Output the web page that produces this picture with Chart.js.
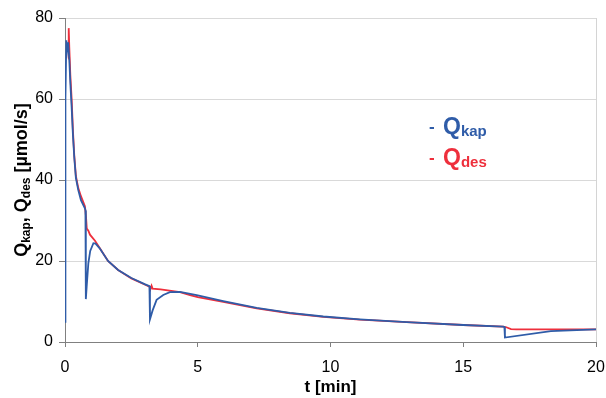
<!DOCTYPE html>
<html>
<head>
<meta charset="utf-8">
<script src="https://cdn.jsdelivr.net/npm/chart.js@4/dist/chart.umd.min.js"></script>
<style>
  html, body { margin: 0; padding: 0; background: #fff; }
  #wrap { width: 606px; height: 398px; position: relative; }
</style>
</head>
<body>
<div id="wrap"><canvas id="qChart"></canvas></div>
<script>
const tKap = [0, 0.005, 0.01, 0.02, 0.03, 0.05, 0.08, 0.12, 0.16, 0.2, 0.25, 0.3, 0.35, 0.41, 0.5, 0.6, 0.75, 0.77, 0.78, 0.79, 0.82, 0.88, 0.95, 1.07, 1.15, 1.3, 1.62, 2.0, 2.5, 3.0, 3.18, 3.2, 3.3, 3.45, 3.7, 3.95, 4.33, 4.96, 5.96, 7.22, 8.47, 9.73, 11.1, 12.87, 15.0, 16.5, 16.55, 16.57, 18.3, 20];
const qKap = [5, 15, 38, 38, 60, 74.5, 72, 74, 70, 64, 58, 51, 45.5, 40.5, 37.5, 35, 33, 32.5, 18, 10.6, 14, 19.5, 22.5, 24.4, 24.3, 23.2, 20, 17.8, 15.8, 14.3, 13.8, 5.6, 7.8, 10.4, 11.6, 12.3, 12.4, 11.6, 10.1, 8.4, 7.2, 6.3, 5.6, 4.9, 4.2, 3.8, 3.7, 1.1, 2.7, 3.1];

const tDes = [0.12, 0.14, 0.16, 0.2, 0.25, 0.3, 0.35, 0.41, 0.5, 0.6, 0.75, 0.79, 0.82, 0.88, 0.94, 1.13, 1.3, 1.62, 2.0, 2.5, 3.0, 3.2, 3.22, 3.26, 3.3, 3.6, 4.0, 4.33, 4.71, 5.0, 5.96, 7.22, 8.47, 9.73, 11.1, 12.87, 15.0, 16.5, 16.6, 16.8, 17.0, 18.0, 20.0];
const qDes = [70, 77.5, 73, 66, 60, 52, 46, 41, 38, 36, 33.5, 31, 28, 27.5, 26.5, 25, 23.3, 20, 17.8, 15.7, 14.2, 13.6, 13.1, 13.9, 13.2, 13, 12.6, 12.3, 11.6, 11.1, 9.9, 8.3, 7.1, 6.2, 5.5, 4.9, 4.2, 3.8, 3.7, 3.2, 3.1, 3.1, 3.1];

const blue = '#2f5ca8';
const red = '#ee2f3c';
const FONT = '"Liberation Sans", Arial, sans-serif';

function pts(xs, ys) {
  return xs.map((x, i) => ({ x: x, y: ys[i] }));
}

// draws a run of text pieces, some of them as subscripts
function drawRuns(ctx, runs, x, y) {
  let cx = x;
  runs.forEach(r => {
    ctx.font = 'bold ' + r.size + 'px ' + FONT;
    ctx.fillText(r.text, cx, y + (r.dy || 0));
    cx += ctx.measureText(r.text).width;
  });
  return cx - x;
}
function runsWidth(ctx, runs) {
  let w = 0;
  runs.forEach(r => {
    ctx.font = 'bold ' + r.size + 'px ' + FONT;
    w += ctx.measureText(r.text).width;
  });
  return w;
}

const labelPlugin = {
  id: 'labels',
  afterDraw(chart) {
    const ctx = chart.ctx;
    ctx.save();
    ctx.textBaseline = 'alphabetic';
    ctx.textAlign = 'left';

    // y axis title, rotated
    const yRuns = [
      { text: 'Q', size: 18 },
      { text: 'kap', size: 12, dy: 3 },
      { text: ', Q', size: 18 },
      { text: 'des', size: 12, dy: 3 },
      { text: ' [\u00b5mol/s]', size: 18 }
    ];
    const w = runsWidth(ctx, yRuns);
    ctx.fillStyle = '#000';
    ctx.translate(27, 180);
    ctx.rotate(-Math.PI / 2);
    drawRuns(ctx, yRuns, -w / 2, 0);
    ctx.setTransform(1, 0, 0, 1, 0, 0);

    // legend
    ctx.fillStyle = blue;
    drawRuns(ctx, [{ text: '- ', size: 17, dy: -2 }], 429, 134);
    drawRuns(ctx, [{ text: 'Q', size: 23 }, { text: 'kap', size: 15, dy: 2 }], 443, 134);
    ctx.fillStyle = red;
    drawRuns(ctx, [{ text: '- ', size: 17, dy: -2 }], 429, 165);
    drawRuns(ctx, [{ text: 'Q', size: 23 }, { text: 'des', size: 15, dy: 2 }], 443, 165);
    ctx.restore();
  }
};

new Chart(document.getElementById('qChart').getContext('2d'), {
  type: 'line',
  data: {
    datasets: [
      {
        label: 'Qdes',
        data: pts(tDes, qDes),
        borderColor: red,
        borderWidth: 1.8,
        pointRadius: 0,
        tension: 0,
        order: 2
      },
      {
        label: 'Qkap',
        data: pts(tKap, qKap),
        borderColor: blue,
        borderWidth: 1.8,
        pointRadius: 0,
        tension: 0,
        order: 1
      }
    ]
  },
  options: {
    responsive: true,
    maintainAspectRatio: false,
    animation: false,
    layout: { padding: { left: 0, right: 10, top: 18, bottom: 0 } },
    plugins: {
      legend: { display: false },
      tooltip: { enabled: false }
    },
    scales: {
      x: {
        type: 'linear',
        min: 0,
        max: 20,
        ticks: { stepSize: 5, color: '#000', font: { family: FONT, size: 16 }, padding: 11 },
        grid: {
          color: c => (c.tick && c.tick.value === 20 ? '#d4d4d4' : 'rgba(0,0,0,0)'),
          tickColor: '#808080',
          tickLength: 5
        },
        border: { color: '#808080' },
        title: {
          display: true,
          text: 't [min]',
          color: '#000',
          font: { family: FONT, size: 17, weight: 'bold' },
          padding: { top: 0, bottom: 0 }
        },
        afterFit: s => { s.height = 56; s.paddingLeft = 0; s.paddingRight = 0; }
      },
      y: {
        min: 0,
        max: 80,
        ticks: { stepSize: 20, color: '#000', font: { family: FONT, size: 16 }, padding: 6 },
        grid: {
          color: c => (c.tick && c.tick.value === 0 ? 'rgba(0,0,0,0)' : '#d9d9d9'),
          tickColor: '#808080',
          tickLength: 6
        },
        border: { color: '#808080' },
        afterFit: s => { s.width = 65; s.paddingTop = 0; s.paddingBottom = 0; }
      }
    }
  },
  plugins: [labelPlugin]
});
</script>
</body>
</html>
